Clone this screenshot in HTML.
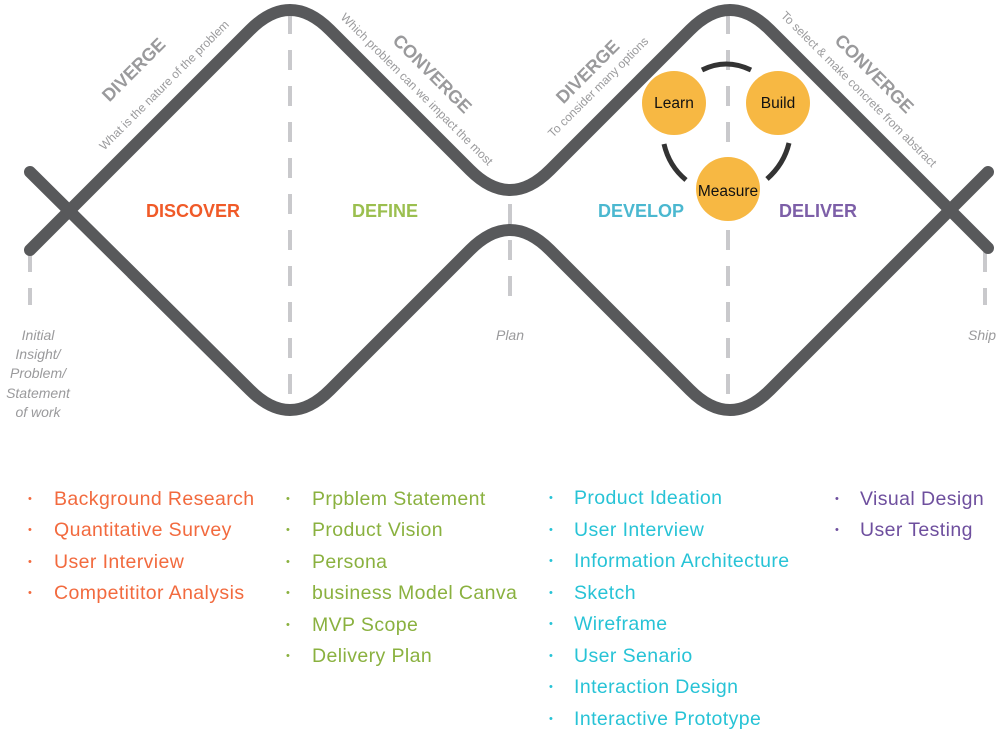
<!DOCTYPE html>
<html><head><meta charset="utf-8"><style>
body{margin:0;background:#fff;}
svg{display:block;}
.l{font-family:"Liberation Sans",sans-serif;font-size:19.5px;letter-spacing:0.4px;}
.b{font-size:11px;}
</style></head><body>
<svg width="998" height="729" viewBox="0 0 998 729" xmlns="http://www.w3.org/2000/svg">
<g stroke="#c9c9cc" stroke-width="4" stroke-dasharray="20,16" fill="none">
<line x1="30" y1="252" x2="30" y2="305"/>
<line x1="290" y1="14" x2="290" y2="412"/>
<line x1="510" y1="204" x2="510" y2="305"/>
<line x1="728" y1="14" x2="728" y2="412"/>
<line x1="985" y1="252" x2="985" y2="305"/>
</g>
<g stroke="#58595b" stroke-width="12" fill="none" stroke-linecap="round" stroke-linejoin="round">
<path d="M30,250 L250,30 Q290,-10 330,30 L470,170 Q510,210 550,170 L690,30 Q730,-10 770,30 L988,248"/>
<path d="M30,172 L250,390 Q290,430 330,390 L470,250 Q510,210 550,250 L690,390 Q730,430 770,390 L988,172"/>
</g>
<g font-family="Liberation Sans, sans-serif" fill="#9a9a9c">
<text transform="translate(138,74) rotate(-45)" text-anchor="middle" font-size="18" font-weight="bold">DIVERGE</text>
<text transform="translate(167,88) rotate(-45)" text-anchor="middle" font-size="12">What is the nature of the problem</text>
<text transform="translate(428,78) rotate(45)" text-anchor="middle" font-size="18" font-weight="bold">CONVERGE</text>
<text transform="translate(414,92) rotate(45)" text-anchor="middle" font-size="12">Which problem can we impact the most</text>
<text transform="translate(592,76) rotate(-45)" text-anchor="middle" font-size="18" font-weight="bold">DIVERGE</text>
<text transform="translate(601,90) rotate(-45)" text-anchor="middle" font-size="12">To consider many options</text>
<text transform="translate(870,78) rotate(45)" text-anchor="middle" font-size="18" font-weight="bold">CONVERGE</text>
<text transform="translate(856,92) rotate(45)" text-anchor="middle" font-size="12">To select &amp; make concrete from abstract</text>
</g>
<g font-family="Liberation Sans, sans-serif" font-weight="bold" font-size="18" text-anchor="middle">
<text x="193" y="217" fill="#f05a28">DISCOVER</text>
<text x="385" y="217" fill="#9bbf4f">DEFINE</text>
<text x="641" y="217" fill="#4bb8d0">DEVELOP</text>
<text x="818" y="217" fill="#7d5fa8">DELIVER</text>
</g>
<g font-family="Liberation Sans, sans-serif" font-style="italic" font-size="14" fill="#9a9a9c" text-anchor="middle">
<text x="38" y="340">Initial</text>
<text x="38" y="359">Insight/</text>
<text x="38" y="378">Problem/</text>
<text x="38" y="398">Statement</text>
<text x="38" y="417">of work</text>
<text x="510" y="340">Plan</text>
<text x="982" y="340">Ship</text>
</g>
<g stroke="#333" stroke-width="5" fill="none">
<path d="M702,70 Q726,58 751,70"/>
<path d="M664,144 Q669,166 686,180"/>
<path d="M789,143 Q784,164 767,179"/>
</g>
<g fill="#f7b843">
<circle cx="674" cy="103" r="32"/>
<circle cx="778" cy="103" r="32"/>
<circle cx="728" cy="189" r="32"/>
</g>
<g font-family="Liberation Sans, sans-serif" font-size="15.5" fill="#111" text-anchor="middle">
<text x="674" y="108">Learn</text>
<text x="778" y="108">Build</text>
<text x="728" y="196">Measure</text>
</g>
<g class="l" fill="#f26a3e">
<text class="b" x="28" y="502">•</text><text x="54" y="505">Background Research</text>
<text class="b" x="28" y="533">•</text><text x="54" y="536">Quantitative Survey</text>
<text class="b" x="28" y="565">•</text><text x="54" y="568">User Interview</text>
<text class="b" x="28" y="596">•</text><text x="54" y="599">Competititor Analysis</text>
</g>
<g class="l" fill="#8ab13f">
<text class="b" x="286" y="502">•</text><text x="312" y="505">Prpblem Statement</text>
<text class="b" x="286" y="533">•</text><text x="312" y="536">Product Vision</text>
<text class="b" x="286" y="565">•</text><text x="312" y="568">Persona</text>
<text class="b" x="286" y="596">•</text><text x="312" y="599">business Model Canva</text>
<text class="b" x="286" y="628">•</text><text x="312" y="631">MVP Scope</text>
<text class="b" x="286" y="659">•</text><text x="312" y="662">Delivery Plan</text>
</g>
<g class="l" fill="#27c3d6">
<text class="b" x="549" y="501">•</text><text x="574" y="504">Product Ideation</text>
<text class="b" x="549" y="533">•</text><text x="574" y="536">User  Interview</text>
<text class="b" x="549" y="564">•</text><text x="574" y="567">Information Architecture</text>
<text class="b" x="549" y="596">•</text><text x="574" y="599">Sketch</text>
<text class="b" x="549" y="627">•</text><text x="574" y="630">Wireframe</text>
<text class="b" x="549" y="659">•</text><text x="574" y="662">User Senario</text>
<text class="b" x="549" y="690">•</text><text x="574" y="693">Interaction Design</text>
<text class="b" x="549" y="722">•</text><text x="574" y="725">Interactive Prototype</text>
</g>
<g class="l" fill="#6e4f9e">
<text class="b" x="835" y="502">•</text><text x="860" y="505">Visual Design</text>
<text class="b" x="835" y="533">•</text><text x="860" y="536">User  Testing</text>
</g>
</svg>
</body></html>
